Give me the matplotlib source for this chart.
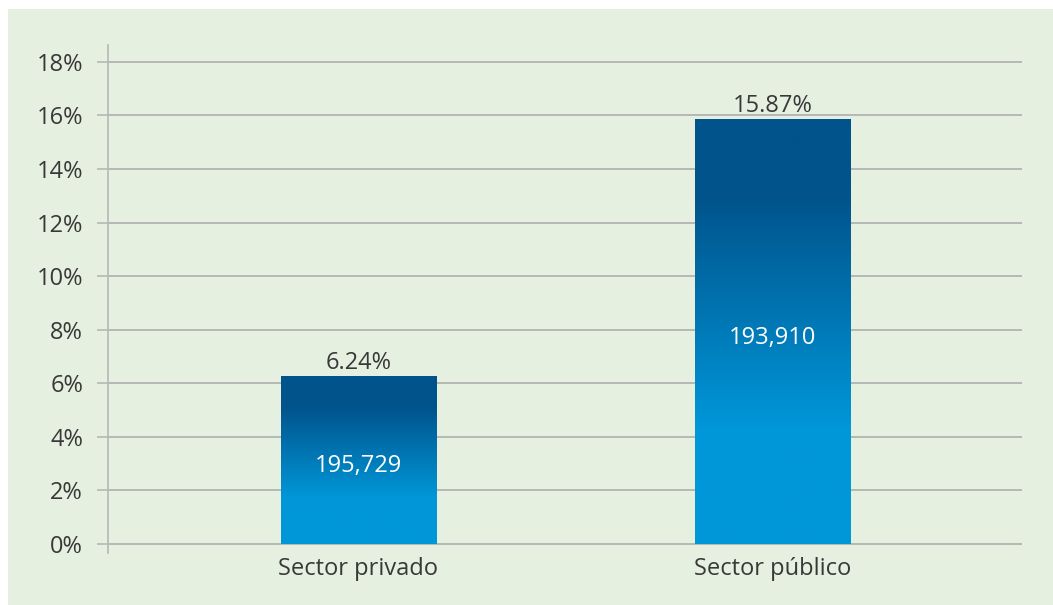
import numpy as np
import matplotlib
matplotlib.use('Agg')
import matplotlib.pyplot as plt
from matplotlib.colors import LinearSegmentedColormap
from matplotlib.patches import Rectangle

categories = ['Sector privado', 'Sector público']
rates = [6.24, 15.87]
counts = ['195,729', '193,910']
yticks = list(range(0, 19, 2))

plt.rcParams['font.family'] = ['Open Sans', 'DejaVu Sans']

BG = '#e6f0e0'
TXT = '#383838'
GRID = '#b5b8b4'
FS = 17

fig = plt.figure(figsize=(10.53, 6.05), dpi=100)
fig.patch.set_facecolor('white')
fig.patches.append(Rectangle((8 / 1053, 0), 1, 1 - 9 / 605, transform=fig.transFigure,
                             facecolor=BG, edgecolor='none', zorder=-10))

ax = fig.add_axes([108 / 1053, 1 - 553 / 605, (1022 - 108) / 1053, (553 - 45) / 605])
ax.set_facecolor('none')

# gradient: dark at top, light at bottom
cmap = LinearSegmentedColormap.from_list('blu', [(0, '#0097d9'), (0.27, '#0097d9'),
                                                 (0.82, '#00538b'), (1, '#00538b')])
grad = np.linspace(0, 1, 256).reshape(-1, 1)
width = 0.374
x = np.arange(len(categories))
bars = ax.bar(x, rates, width=width, color='none', zorder=3)
for b, v in zip(bars, rates):
    ax.imshow(grad, extent=[b.get_x(), b.get_x() + width, 0, v], origin='lower',
              cmap=cmap, aspect='auto', zorder=3)

for xi, v, c in zip(x, rates, counts):
    ax.text(xi, v + 0.05, f'{v:.2f}%', ha='center', va='bottom', fontsize=FS, color=TXT, zorder=4)
    ax.text(xi, v / 2 - 0.22 if v < 10 else 7.7, c, ha='center', va='center', fontsize=FS,
            color='white', zorder=4)

ax.set_xlim(-0.604, 1.601)
ax.set_ylim(-0.34, 18.63)
ax.set_yticks(yticks)
ax.set_yticklabels([f'{t}%' for t in yticks], fontsize=FS, color=TXT)
ax.set_xticks(x)
ax.set_xticklabels(categories, fontsize=FS, color=TXT)
ax.tick_params(axis='x', length=0, pad=3)
ax.tick_params(axis='y', length=8, width=1.2, color=GRID, pad=10)
ax.yaxis.grid(True, color=GRID, linewidth=1.4, zorder=1)
ax.set_axisbelow(True)
for s in ['top', 'right', 'bottom']:
    ax.spines[s].set_visible(False)
ax.spines['left'].set_color(GRID)
ax.spines['left'].set_linewidth(1.2)

fig.savefig('out.png', dpi=100)
